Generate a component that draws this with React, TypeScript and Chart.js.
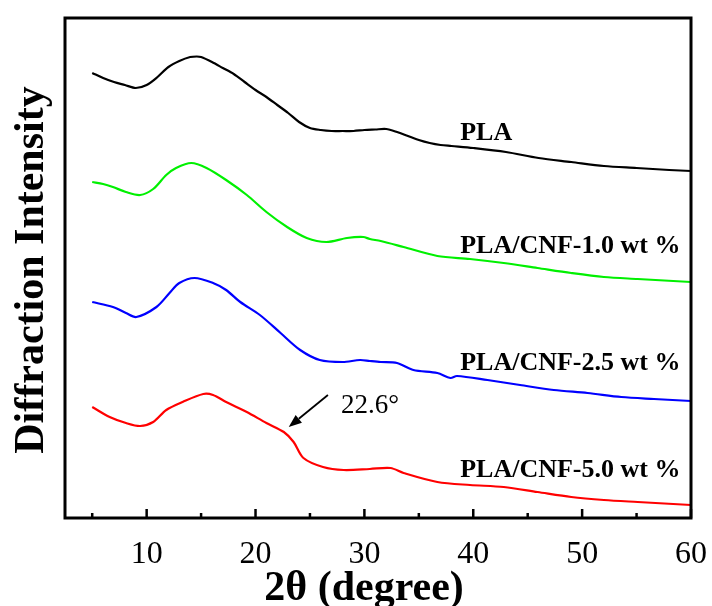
import React, { useEffect, useRef } from 'react';
import { Chart, registerables } from 'chart.js';

Chart.register(...registerables);

// 2θ positions and intensities (arbitrary units, curves stacked)
const PLA_X = [5, 6, 7, 8, 9, 10, 11, 12, 13, 14, 14.6, 15, 16, 17, 18, 19, 20, 21, 22, 23, 24, 25, 26, 27, 28, 29, 30, 31, 32, 33, 34, 35, 36, 37, 38, 40, 43, 46, 49, 52, 55, 58, 60];
const PLA_Y = [445, 440, 436, 433, 430, 433, 441, 451, 457, 461, 461.5, 461, 456, 450, 444, 436, 428, 421, 413, 405, 396, 390, 388, 387, 387, 387, 388, 388.5, 389, 386, 382, 378, 375, 373, 372, 370, 366, 360, 356, 352, 350, 348, 347];

const CNF10_X = [5, 6, 6.9, 8.1, 9.4, 10.6, 11.8, 12.7, 14.1, 15.5, 17.3, 19.2, 21, 22.9, 24.7, 26.5, 28.4, 29.9, 30.5, 31.5, 33.6, 36.7, 39.7, 42.8, 45.9, 49, 52, 55.1, 60];
const CNF10_Y = [336, 334, 331, 326, 323, 329, 343, 350, 355, 350, 338, 323, 306, 291, 280, 276, 280, 281, 279, 277, 271, 262, 259, 255, 250, 245, 241, 239, 236];

const CNF25_X = [5, 6.9, 8.1, 9.05, 10.9, 12.1, 13, 14.4, 16.1, 17.3, 18.6, 20.4, 22.3, 24.1, 25.9, 28, 29.6, 30.5, 31.5, 33, 34.5, 36.7, 37.9, 38.5, 41.3, 44.3, 47.4, 50.5, 53.6, 56.6, 60];
const CNF25_Y = [216, 211, 205, 201, 211, 225, 235, 240, 235, 228, 216, 203, 185, 168, 158, 156, 158, 157, 156, 155, 148, 145, 140, 142, 138, 133, 128, 125, 121, 119, 117];

const CNF50_X = [5, 6.6, 8.1, 9.4, 10.6, 11.8, 13.3, 15.2, 16.1, 17.3, 19.2, 21, 22.6, 23.5, 24.4, 26.2, 28.1, 30.5, 32.4, 33.6, 36.7, 39.7, 42.8, 45.9, 49, 52, 55.1, 60];
const CNF50_Y = [111, 101, 95, 92, 96, 108, 116, 124, 123, 116, 106, 95, 86, 76, 60, 51, 48, 49, 50, 45, 36, 33, 31, 26, 21, 18, 16, 13];

const X_TICKS = [5, 10, 15, 20, 25, 30, 35, 40, 45, 50, 55, 60];
const SERIES_NAMES = ['PLA', 'PLA/CNF-1.0 wt %', 'PLA/CNF-2.5 wt %', 'PLA/CNF-5.0 wt %'];
const SERIES_COLORS = ['#000000', '#00F000', '#0000FF', '#FF0000'];
const PEAK_LABEL = '22.6°';
const X_TITLE = '2θ (degree)';
const Y_TITLE = 'Diffraction Intensity';

// annotation placement (data coordinates)
const LABEL_AT_X = 38.8;
const LABEL_AT_Y = [378, 265, 148, 41];
const ARROW_FROM = { x: 26.65, y: 123 };
const ARROW_TO = { x: 23.05, y: 91 };
const PEAK_TEXT_AT = { x: 27.85, y: 105 };

const SERIF = '"Liberation Serif", "Times New Roman", serif';

const decorPlugin = {
  id: 'decor',
  afterDraw(chart: any) {
    const { ctx, chartArea: a, scales } = chart;
    const x = scales.x;
    const y = scales.y;
    ctx.save();
    ctx.fillStyle = '#000';
    ctx.strokeStyle = '#000';

    // frame
    ctx.lineWidth = 3;
    ctx.strokeRect(a.left, a.top, a.right - a.left, a.bottom - a.top);

    // inward ticks on the bottom axis
    ctx.lineWidth = 2.5;
    x.ticks.forEach((t: any) => {
      const px = x.getPixelForValue(t.value);
      const len = t.value % 10 === 0 ? 9 : 5;
      ctx.beginPath();
      ctx.moveTo(px, a.bottom);
      ctx.lineTo(px, a.bottom - len);
      ctx.stroke();
    });

    // series labels
    ctx.font = 'bold 26px ' + SERIF;
    ctx.textAlign = 'left';
    ctx.textBaseline = 'alphabetic';
    SERIES_NAMES.forEach((n, i) => {
      ctx.fillText(n, x.getPixelForValue(LABEL_AT_X), y.getPixelForValue(LABEL_AT_Y[i]));
    });

    // arrow
    const x0 = x.getPixelForValue(ARROW_FROM.x);
    const y0 = y.getPixelForValue(ARROW_FROM.y);
    const x1 = x.getPixelForValue(ARROW_TO.x);
    const y1 = y.getPixelForValue(ARROW_TO.y);
    const ang = Math.atan2(y1 - y0, x1 - x0);
    const headLen = 13;
    const headW = 5;
    const bx = x1 - headLen * Math.cos(ang);
    const by = y1 - headLen * Math.sin(ang);
    ctx.lineWidth = 1.8;
    ctx.beginPath();
    ctx.moveTo(x0, y0);
    ctx.lineTo(bx, by);
    ctx.stroke();
    ctx.beginPath();
    ctx.moveTo(x1, y1);
    ctx.lineTo(bx + headW * Math.sin(ang), by - headW * Math.cos(ang));
    ctx.lineTo(bx - headW * Math.sin(ang), by + headW * Math.cos(ang));
    ctx.closePath();
    ctx.fill();

    ctx.font = '27px ' + SERIF;
    ctx.fillText(PEAK_LABEL, x.getPixelForValue(PEAK_TEXT_AT.x), y.getPixelForValue(PEAK_TEXT_AT.y));

    // axis titles
    ctx.font = 'bold 42px ' + SERIF;
    ctx.textAlign = 'center';
    ctx.fillText(X_TITLE, 364, 600);
    ctx.translate(43, 270);
    ctx.rotate(-Math.PI / 2);
    ctx.fillText(Y_TITLE, 0, 0);
    ctx.restore();
  },
};

export default function App() {
  const canvasRef = useRef<HTMLCanvasElement | null>(null);

  useEffect(() => {
    if (!canvasRef.current) return;
    const mk = (xs: number[], ys: number[]) => xs.map((v, i) => ({ x: v, y: ys[i] }));
    const seriesData = [mk(PLA_X, PLA_Y), mk(CNF10_X, CNF10_Y), mk(CNF25_X, CNF25_Y), mk(CNF50_X, CNF50_Y)];
    const chart = new Chart(canvasRef.current, {
      type: 'line',
      data: {
        datasets: seriesData.map((d, i) => ({
          label: SERIES_NAMES[i],
          data: d,
          borderColor: SERIES_COLORS[i],
          backgroundColor: SERIES_COLORS[i],
          borderWidth: 2.2,
          pointRadius: 0,
          fill: false,
          tension: 0.3,
        })),
      },
      options: {
        animation: false,
        responsive: false,
        events: [],
        layout: { padding: { left: 65, top: 18, right: 21, bottom: 0 } },
        plugins: { legend: { display: false }, tooltip: { enabled: false } },
        scales: {
          x: {
            type: 'linear',
            min: 2.5,
            max: 60,
            grid: { display: false },
            border: { display: false },
            afterBuildTicks: (scale: any) => {
              scale.ticks = X_TICKS.map((v) => ({ value: v }));
            },
            afterFit: (scale: any) => {
              scale.height = 88;
              scale.paddingLeft = 0;
              scale.paddingRight = 0;
            },
            ticks: {
              autoSkip: false,
              maxRotation: 0,
              padding: 9,
              color: '#000',
              font: { family: SERIF, size: 32 },
              callback: (v: any) => (Number(v) % 10 === 0 ? String(v) : ''),
            },
          },
          y: {
            type: 'linear',
            min: 0,
            max: 500,
            display: false,
          },
        },
      },
      plugins: [decorPlugin],
    });
    return () => chart.destroy();
  }, []);

  return (
    <div style={{ position: 'absolute', left: 0, top: 0, width: 712, height: 606, background: '#fff' }}>
      <canvas ref={canvasRef} width={712} height={606} style={{ display: 'block' }} />
    </div>
  );
}
